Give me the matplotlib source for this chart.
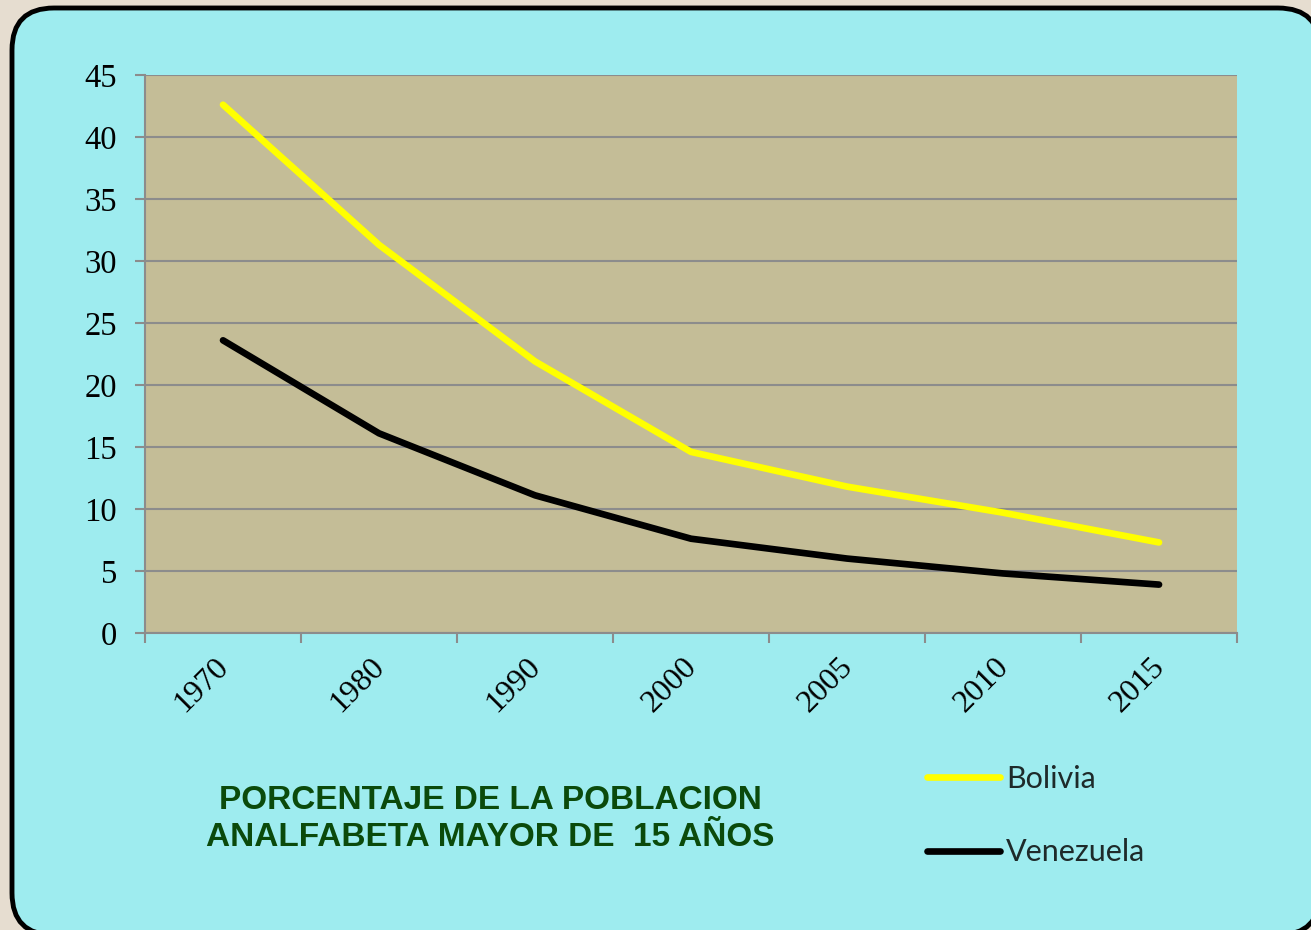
import matplotlib.pyplot as plt
import matplotlib.transforms as mtransforms
from matplotlib.patches import FancyBboxPatch

years = ["1970", "1980", "1990", "2000", "2005", "2010", "2015"]
bolivia = [42.6, 31.3, 21.9, 14.6, 11.8, 9.7, 7.3]
venezuela = [23.6, 16.1, 11.1, 7.6, 6.0, 4.8, 3.9]
y_ticks = [0, 5, 10, 15, 20, 25, 30, 35, 40, 45]

fig = plt.figure(figsize=(13.11, 9.3), dpi=100)
fig.patch.set_facecolor("#E6DDD0")

# rounded cyan panel
panel = FancyBboxPatch(
    (0.12, -0.05), 13.08, 9.27,
    boxstyle="round,pad=0,rounding_size=0.42",
    transform=fig.dpi_scale_trans,
    facecolor="#9EECEF", edgecolor="black", linewidth=3.5, zorder=-1,
)
fig.patches.append(panel)

ax = fig.add_axes([0.1106, 0.3194, 0.833, 0.6])
ax.set_facecolor("#C4BD97")

x = list(range(len(years)))
ax.plot(x, bolivia, color="#FFFF00", linewidth=4.8, solid_capstyle="round", label="Bolivia")
ax.plot(x, venezuela, color="black", linewidth=4.8, solid_capstyle="round", label="Venezuela")

ax.set_xlim(-0.5, len(years) - 0.5)
ax.set_ylim(0, 45)
ax.set_yticks(y_ticks)
ax.set_yticklabels([str(v) for v in y_ticks], family="Liberation Serif", fontsize=23.5)
ax.set_xticks(x)
ax.set_xticklabels(years, family="Liberation Serif", fontsize=23, rotation=45,
                   ha="right", va="top", rotation_mode="anchor")
ax.set_xticks([i - 0.5 for i in range(len(years) + 1)], minor=True)
ax.tick_params(axis="x", which="major", length=0, pad=14)
ax.tick_params(axis="x", which="minor", length=7, color="#8C8C8C", width=1.5)
ax.tick_params(axis="y", length=7, color="#8C8C8C", width=1.5, pad=13)

shift = mtransforms.ScaledTranslation(-9 / 100, 0, fig.dpi_scale_trans)
for lbl in ax.get_xticklabels():
    lbl.set_transform(lbl.get_transform() + shift)

ax.grid(axis="y", color="#8C8C8C", linewidth=1.5)
ax.set_axisbelow(True)
for side in ["top", "right"]:
    ax.spines[side].set_visible(False)
for side in ["left", "bottom"]:
    ax.spines[side].set_color("#8C8C8C")
    ax.spines[side].set_linewidth(1.5)

fig.text(490 / 1311, 1 - 819 / 930,
         "PORCENTAJE DE LA POBLACION\nANALFABETA MAYOR DE  15 AÑOS",
         ha="center", va="center", family="Liberation Sans", weight="bold",
         fontsize=24, color="#0B4A0B", linespacing=1.27)

leg = ax.legend(loc="upper left", bbox_to_anchor=(899 / 1311, 1 - 737 / 930),
                bbox_transform=fig.transFigure, frameon=False,
                prop={"family": "Lato", "size": 22}, handlelength=2.4,
                handletextpad=0.2, labelspacing=1.5)
for t in leg.get_texts():
    t.set_color("#1E2A2A")

fig.savefig("out.png", dpi=100, facecolor=fig.get_facecolor())
